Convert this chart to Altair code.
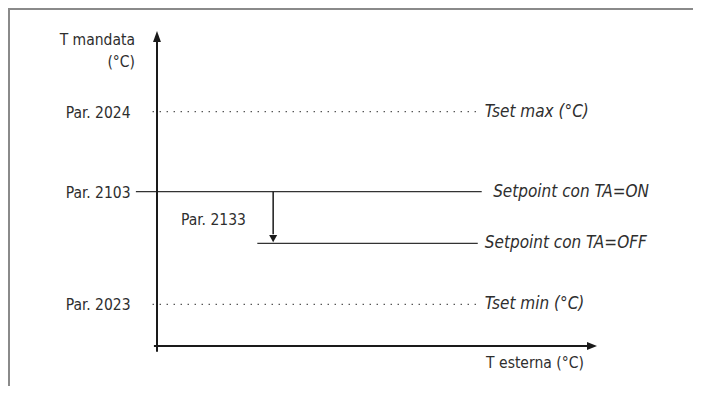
import altair as alt
import pandas as pd

# ---- data (schematic levels, arbitrary temperature units) ----
levels = ["Tset max", "Setpoint TA=ON", "Setpoint TA=OFF", "Tset min"]
level_values = [74.4, 49.0, 32.6, 13.2]
left_labels = ["Par. 2024", "Par. 2103", "", "Par. 2023"]
right_labels = ["Tset max (°C)", "Setpoint con TA=ON", "Setpoint con TA=OFF", "Tset min (°C)"]
line_start = [-1.0, -4.8, 22.8, -1.0]
line_end = [72.9, 73.8, 72.9, 72.9]
label_start = [74.5, 76.4, 74.5, 74.5]
line_kind = ["dotted", "solid", "solid", "dotted"]

y_axis_title = ["T mandata", "(°C)"]
x_axis_title = "T esterna (°C)"
delta_label = "Par. 2133"

FONT = "'DejaVu Sans Condensed', 'DejaVu Sans', sans-serif"
TXT = "#2e2e2e"
FS = 15.5
FS_IT = 17

xs = alt.Scale(domain=[0, 100], range=[149, 589], nice=False, zero=False)
ys = alt.Scale(domain=[0, 100], range=[338, 23], nice=False, zero=False)


def X(f):
    return alt.X(f, type="quantitative", scale=xs, axis=None)


def Y(f):
    return alt.Y(f, type="quantitative", scale=ys, axis=None)


lv = pd.DataFrame({
    "level": levels, "value": level_values, "left": left_labels,
    "right": right_labels, "x0": line_start, "x1": line_end,
    "lx": label_start, "kind": line_kind,
})

dotted = alt.Chart(lv).transform_filter(alt.datum.kind == "dotted").mark_rule(
    color="#444444", strokeWidth=1.3, strokeDash=[1.3, 5.7]
).encode(x=X("x0"), x2="x1", y=Y("value"))

solid = alt.Chart(lv).transform_filter(alt.datum.kind == "solid").mark_rule(
    color="#333333", strokeWidth=1.2
).encode(x=X("x0"), x2="x1", y=Y("value"))

left_txt = alt.Chart(lv).transform_filter(alt.datum.left != "").transform_calculate(
    lxl="-6.0"
).mark_text(
    align="right", baseline="middle", font=FONT, fontSize=FS, color=TXT, dy=1
).encode(x=X("lxl"), y=Y("value"), text="left:N")

right_txt = alt.Chart(lv).mark_text(
    align="left", baseline="middle", font=FONT, fontSize=FS_IT, fontStyle="italic", color=TXT
).encode(x=X("lx"), y=Y("value"), text="right:N")

# axes
ax = pd.DataFrame({"x": [0, -0.7], "x2": [0, 98.0], "y": [-1.8, 0], "y2": [97.0, 0]})
axes = alt.Chart(ax).mark_rule(color="#1a1a1a", strokeWidth=2).encode(
    x=X("x"), x2="x2", y=Y("y"), y2="y2")

heads = pd.DataFrame({"x": [0, 100], "y": [100, 0], "dir": ["up", "right"]})
head_up = alt.Chart(heads).transform_filter(alt.datum.dir == "up").mark_point(
    shape="M0,-1L-0.72,1L0.72,1Z", size=121, filled=True, opacity=1,
    color="#1a1a1a", strokeWidth=0, yOffset=5.5
).encode(x=X("x"), y=Y("y"))
head_right = alt.Chart(heads).transform_filter(alt.datum.dir == "right").mark_point(
    shape="M1,0L-1,-0.8L-1,0.8Z", size=100, filled=True, opacity=1,
    color="#1a1a1a", strokeWidth=0, xOffset=-5
).encode(x=X("x"), y=Y("y"))

# delta arrow (Par. 2133)
arr = pd.DataFrame({"x": [26.4], "y": [level_values[1]], "y2": [35.5], "yh": [level_values[2]]})
arr_shaft = alt.Chart(arr).mark_rule(color="#1a1a1a", strokeWidth=1.5).encode(
    x=X("x"), y=Y("y"), y2="y2")
arr_head = alt.Chart(arr).mark_point(
    shape="M0,1L-1,-0.8L1,-0.8Z", size=64, filled=True, opacity=1,
    color="#1a1a1a", strokeWidth=0, yOffset=-5
).encode(x=X("x"), y=Y("yh"))

# titles
tt = pd.DataFrame({"t": y_axis_title, "x": [-5.0, -5.0], "y": [97.1, 90.3]})
ytitle = alt.Chart(tt).mark_text(
    align="right", baseline="middle", font=FONT, fontSize=FS, color=TXT
).encode(x=X("x"), y=Y("y"), text="t:N")

xt = pd.DataFrame({"t": [x_axis_title, delta_label], "x": [74.8, 5.45], "y": [-5.5, 40.0]})
xtitle = alt.Chart(xt).mark_text(
    align="left", baseline="middle", font=FONT, fontSize=FS, color=TXT
).encode(x=X("x"), y=Y("y"), text="t:N")

# frame (decoration)
one = pd.DataFrame({"a": [0]})
frame_v = alt.Chart(one).mark_rule(color="#8a8a8a", strokeWidth=2).encode(
    x=alt.value(1), y=alt.value(0), y2=alt.value(378))
frame_h = alt.Chart(one).mark_rule(color="#8a8a8a", strokeWidth=2).encode(
    y=alt.value(1), x=alt.value(0), x2=alt.value(685))

chart = alt.layer(
    frame_v, frame_h, dotted, solid, axes, head_up, head_right,
    arr_shaft, arr_head, left_txt, right_txt, ytitle, xtitle
).properties(
    width=685, height=378, padding=0,
    autosize=alt.AutoSizeParams(type="none"),
).configure_view(stroke=None)

chart.save("out.html", embed_options={"renderer": "svg", "actions": False})
